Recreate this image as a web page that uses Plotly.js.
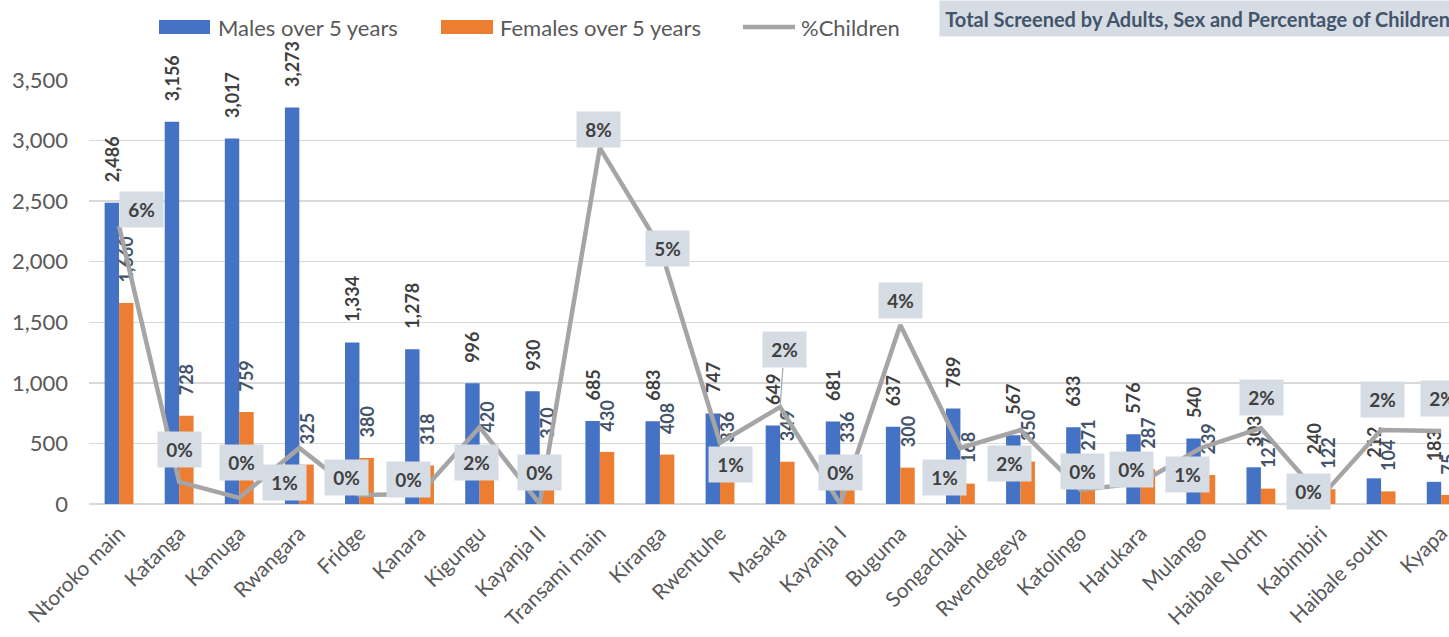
<!DOCTYPE html>
<html>
<head>
<meta charset="utf-8">
<script src="https://cdn.plot.ly/plotly-3.0.1.min.js"></script>
<style>html,body{margin:0;padding:0;background:#fff;}#chart{width:1449px;height:637px;}</style>
</head>
<body>
<div id="chart"></div>
<script>
const categories = ["Ntoroko main","Katanga","Kamuga","Rwangara","Fridge","Kanara","Kigungu","Kayanja II","Transami main","Kiranga","Rwentuhe","Masaka","Kayanja I","Buguma","Songachaki","Rwendegeya","Katolingo","Harukara","Mulango","Haibale North","Kabimbiri","Haibale south","Kyapa"];
const males = [2486,3156,3017,3273,1334,1278,996,930,685,683,747,649,681,637,789,567,633,576,540,303,240,212,183];
const females = [1660,728,759,325,380,318,420,370,430,408,336,349,336,300,168,350,271,287,239,127,122,104,75];
const pctChildren = [0.059,0.0047,0.0013,0.0119,0.0019,0.0021,0.0163,0,0.0756,0.0546,0.013,0.0206,0,0.038,0.0119,0.0157,0.003,0.0045,0.0119,0.0161,0.0015,0.0157,0.0155];
const seriesNames = ["Males over 5 years","Females over 5 years","%Children"];
const chartTitle = "Total Screened by Adults, Sex and Percentage of Children";

// label offsets (pixels) for the percentage labels – layout only
const pctLabelShift = [[22,17],[0,32],[2,35],[-15,-35],[-13,18],[-11,15],[-3,-35],[0,32],[-1,18],[8,-2],[10,-22],[4,57],[0,32],[0,24],[-16,-30],[-11,-33],[2,18],[-9,13],[-13,-27],[1,31],[-12,5],[1,31],[1,32]];

const W = 1449, H = 637, L = 89, R = 0, T = 80, B = 133;
const pw = W - L - R, ph = H - T - B;
const px = v => (v - L) / pw;
const py = v => (H - B - v) / ph;

const gray = '#595959';
const FONT = 'Lato, "Open Sans", sans-serif';
const nb = '\u00A0\u00A0\u00A0\u00A0';

const traces = [
  {type:'bar', name:seriesNames[0], x:categories, y:males, marker:{color:'#4472C4'},
   texttemplate: nb + '%{y:,}', textposition:'outside', textangle:-90, constraintext:'none', cliponaxis:false,
   textfont:{family:FONT, size:18, color:'#404040', weight:'bold'}, hoverinfo:'skip', showlegend:false},
  {type:'bar', name:seriesNames[1], x:categories, y:females, marker:{color:'#ED7D31'},
   texttemplate: nb + '%{y:,}', textposition:'outside', textangle:-90, constraintext:'none', cliponaxis:false,
   textfont:{family:FONT, size:18, color:'#44546A', weight:'bold'}, hoverinfo:'skip', showlegend:false},
  {type:'scatter', mode:'lines', name:seriesNames[2], x:categories, y:pctChildren, yaxis:'y2',
   line:{color:'#A5A5A5', width:4.5}, cliponaxis:false, hoverinfo:'skip', showlegend:false}
];

const annotations = pctChildren.map((v,i) => {
  const a = {xref:'x', yref:'y2', x:categories[i], y:v, text:Math.round(v*100)+'%',
    font:{family:FONT, size:19, color:'#404040', weight:'bold'}, bgcolor:'#D6DCE4',
    width:41, height:33, borderpad:1, showarrow:false,
    xshift:pctLabelShift[i][0], yshift:pctLabelShift[i][1]};
  if (i === 11) { // Masaka label with leader line
    a.showarrow = true; a.arrowhead = 0; a.arrowwidth = 1.2; a.arrowcolor = '#A5A5A5';
    a.ax = pctLabelShift[i][0]; a.ay = -pctLabelShift[i][1]; a.xshift = 0; a.yshift = 0;
  }
  return a;
});

// title box
annotations.push({xref:'paper', yref:'paper', x:px(939), y:py(0), xanchor:'left', yanchor:'top',
  text:'<b>\u00A0'+chartTitle+'</b>', showarrow:false, align:'left', bgcolor:'#D6DCE4',
  width:620, height:33, borderpad:1, font:{family:FONT, size:20, color:'#44546A'}});

// custom legend
const legendItems = [
  {x0:159, x1:210, text:seriesNames[0], tx:216, kind:'rect', color:'#4472C4'},
  {x0:441, x1:493, text:seriesNames[1], tx:498, kind:'rect', color:'#ED7D31'},
  {x0:743, x1:795, text:seriesNames[2], tx:799, kind:'line', color:'#A5A5A5'}
];
const shapes = [];
legendItems.forEach(it => {
  if (it.kind === 'rect') {
    shapes.push({type:'rect', xref:'paper', yref:'paper', x0:px(it.x0), x1:px(it.x1), y0:py(34), y1:py(20),
      fillcolor:it.color, line:{width:0}});
  } else {
    shapes.push({type:'line', xref:'paper', yref:'paper', x0:px(it.x0), x1:px(it.x1), y0:py(27), y1:py(27),
      line:{color:it.color, width:4.5}});
  }
  annotations.push({xref:'paper', yref:'paper', x:px(it.tx), y:py(27), xanchor:'left', yanchor:'middle',
    text:it.text, showarrow:false, font:{family:FONT, size:22, color:gray}});
});

const layout = {
  width:W, height:H,
  margin:{l:L, r:R, t:T, b:B, pad:0},
  paper_bgcolor:'#ffffff', plot_bgcolor:'#ffffff',
  font:{family:FONT, color:gray},
  showlegend:false,
  barmode:'group', bargap:0.52, bargroupgap:0,
  xaxis:{type:'category', range:[-0.5, 22.13], tickangle:-45, ticks:'', showgrid:false, ticklabelstandoff:12,
    showline:false, zeroline:false, tickfont:{family:FONT, size:21, color:gray}, fixedrange:true},
  yaxis:{range:[0,3500], tickvals:[0,500,1000,1500,2000,2500,3000,3500], tickformat:',',
    showgrid:true, gridcolor:'#D9D9D9', gridwidth:1.5, zeroline:true, zerolinecolor:'#D9D9D9', zerolinewidth:1.5,
    showline:false, ticks:'', ticklabelstandoff:20, tickfont:{family:FONT, size:22, color:gray}, fixedrange:true},
  yaxis2:{overlaying:'y', side:'right', range:[0,0.09], visible:false, showgrid:false, zeroline:false, fixedrange:true},
  annotations:annotations,
  shapes:shapes
};

Plotly.newPlot('chart', traces, layout, {staticPlot:true, displayModeBar:false});
</script>
</body>
</html>
